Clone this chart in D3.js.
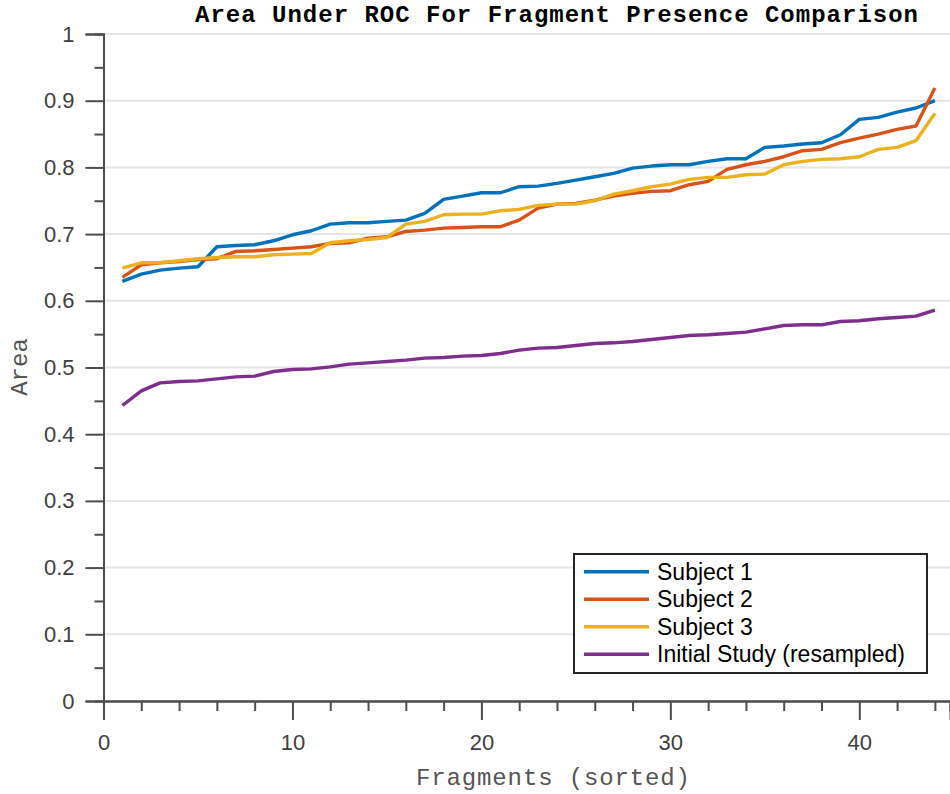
<!DOCTYPE html>
<html>
<head>
<meta charset="utf-8">
<script src="https://cdn.jsdelivr.net/npm/d3@7"></script>
<style>
  body { margin: 0; background: #fff; }
  svg { display: block; }
</style>
</head>
<body>
<div id="chart"></div>
<script>
const fragments = d3.range(1, 45);

const subject1 = [0.629, 0.640, 0.646, 0.649, 0.651, 0.681, 0.683, 0.684, 0.690, 0.699,
  0.705, 0.715, 0.717, 0.717, 0.719, 0.721, 0.731, 0.752, 0.757, 0.762,
  0.762, 0.771, 0.772, 0.776, 0.781, 0.786, 0.791, 0.799, 0.802, 0.804,
  0.804, 0.809, 0.813, 0.813, 0.830, 0.832, 0.835, 0.837, 0.849, 0.872,
  0.875, 0.883, 0.889, 0.900];
const subject2 = [0.635, 0.654, 0.657, 0.659, 0.662, 0.663, 0.674, 0.675, 0.677, 0.679,
  0.681, 0.686, 0.687, 0.694, 0.696, 0.704, 0.706, 0.709, 0.710, 0.711,
  0.711, 0.721, 0.739, 0.745, 0.746, 0.751, 0.757, 0.761, 0.764, 0.765,
  0.774, 0.779, 0.797, 0.804, 0.809, 0.816, 0.825, 0.827, 0.837, 0.844,
  0.850, 0.857, 0.862, 0.919];
const subject3 = [0.649, 0.657, 0.657, 0.660, 0.663, 0.665, 0.666, 0.666, 0.669, 0.670,
  0.671, 0.687, 0.690, 0.692, 0.695, 0.715, 0.719, 0.729, 0.730, 0.730,
  0.735, 0.737, 0.743, 0.745, 0.745, 0.750, 0.760, 0.765, 0.771, 0.775,
  0.782, 0.785, 0.785, 0.789, 0.790, 0.804, 0.809, 0.812, 0.813, 0.816,
  0.827, 0.830, 0.840, 0.881];
const initialStudy = [0.443, 0.465, 0.477, 0.479, 0.480, 0.483, 0.486, 0.487, 0.494, 0.497,
  0.498, 0.501, 0.505, 0.507, 0.509, 0.511, 0.514, 0.515, 0.517, 0.518,
  0.521, 0.526, 0.529, 0.530, 0.533, 0.536, 0.537, 0.539, 0.542, 0.545,
  0.548, 0.549, 0.551, 0.553, 0.558, 0.563, 0.564, 0.564, 0.569, 0.570,
  0.573, 0.575, 0.577, 0.586];

const seriesNames = ['Subject 1', 'Subject 2', 'Subject 3', 'Initial Study (resampled)'];
const seriesColors = ['#0072BD', '#D95319', '#EDB120', '#7E2F8E'];
const xMajorTicks = [0, 10, 20, 30, 40];
const yMajorTicks = d3.range(0, 11).map(d => d / 10);

const width = 950;
const height = 794;
const axisColor = '#4d4d4d';
const tickFont = '"Liberation Sans", Arial, Helvetica, sans-serif';
const monoFont = '"Liberation Mono", "Courier New", Courier, monospace';

const series = [subject1, subject2, subject3, initialStudy].map((values, i) => ({
  name: seriesNames[i],
  color: seriesColors[i],
  points: values.map((v, j) => ({x: fragments[j], y: v}))
}));

const svg = d3.select('#chart').append('svg')
  .attr('width', width)
  .attr('height', height);

// plot is cut off on the right in the original, so the x range runs past the edge
const x = d3.scaleLinear().domain([0, 44.8]).range([103.5, 950]);
const y = d3.scaleLinear().domain([0, 1]).range([701, 34]);

// horizontal grid
svg.append('g')
  .selectAll('line')
  .data(yMajorTicks)
  .join('line')
    .attr('x1', x(0))
    .attr('x2', width)
    .attr('y1', d => y(d))
    .attr('y2', d => y(d))
    .attr('stroke', '#e6e6e6')
    .attr('stroke-width', 2);

// data lines
const line = d3.line()
  .x(d => x(d.x))
  .y(d => y(d.y));

svg.append('g')
  .selectAll('path')
  .data(series)
  .join('path')
    .attr('d', d => line(d.points))
    .attr('fill', 'none')
    .attr('stroke', d => d.color)
    .attr('stroke-width', 3.4)
    .attr('stroke-linejoin', 'round');

function styleAxis(g) {
  g.select('.domain').attr('stroke', axisColor).attr('stroke-width', 2);
  g.selectAll('.tick line').attr('stroke', axisColor).attr('stroke-width', 2);
  g.selectAll('.tick text')
    .attr('fill', '#404040')
    .attr('font-family', tickFont)
    .attr('font-size', 22);
}

// minor ticks first, majors drawn over them
const xMinor = d3.range(0, 45, 2).filter(d => d % 10 !== 0);
svg.append('g')
  .attr('transform', `translate(0,${y(0)})`)
  .call(d3.axisBottom(x).tickValues(xMinor).tickSize(10).tickFormat(''))
  .call(styleAxis);

svg.append('g')
  .attr('transform', `translate(0,${y(0)})`)
  .call(d3.axisBottom(x).tickValues(xMajorTicks).tickSize(19).tickPadding(14).tickFormat(d3.format('d')))
  .call(styleAxis);

const yMinor = d3.range(0.05, 1, 0.1);
svg.append('g')
  .attr('transform', `translate(${x(0)},0)`)
  .call(d3.axisLeft(y).tickValues(yMinor).tickSize(9).tickFormat(''))
  .call(styleAxis);

svg.append('g')
  .attr('transform', `translate(${x(0)},0)`)
  .call(d3.axisLeft(y).tickValues(yMajorTicks).tickSize(18).tickPadding(11).tickFormat(d => d3.format('~g')(d)))
  .call(styleAxis);

// title and axis labels
svg.append('text')
  .attr('x', 195)
  .attr('y', 22)
  .attr('textLength', 723)
  .attr('lengthAdjust', 'spacing')
  .attr('font-family', monoFont)
  .attr('font-weight', 'bold')
  .attr('font-size', 24)
  .attr('fill', '#000')
  .text('Area Under ROC For Fragment Presence Comparison');

svg.append('text')
  .attr('x', 416)
  .attr('y', 785)
  .attr('textLength', 274)
  .attr('lengthAdjust', 'spacing')
  .attr('font-family', monoFont)
  .attr('font-size', 24)
  .attr('fill', '#555')
  .text('Fragments (sorted)');

svg.append('text')
  .attr('transform', `translate(27,367) rotate(-90)`)
  .attr('text-anchor', 'middle')
  .attr('font-family', monoFont)
  .attr('font-size', 24)
  .attr('fill', '#555')
  .text('Area');

// legend
const legend = svg.append('g').attr('transform', 'translate(574,554)');
legend.append('rect')
  .attr('width', 353)
  .attr('height', 119)
  .attr('fill', '#fff')
  .attr('stroke', '#262626')
  .attr('stroke-width', 2);

const rows = legend.selectAll('g.row')
  .data(series)
  .join('g')
    .attr('class', 'row')
    .attr('transform', (d, i) => `translate(0,${17.7 + i * 27.5})`);

rows.append('line')
  .attr('x1', 10)
  .attr('x2', 75)
  .attr('stroke', d => d.color)
  .attr('stroke-width', 3.4);

rows.append('text')
  .attr('x', 83)
  .attr('y', 8)
  .attr('font-family', tickFont)
  .attr('font-size', 23)
  .attr('fill', '#000')
  .text(d => d.name);
</script>
</body>
</html>
